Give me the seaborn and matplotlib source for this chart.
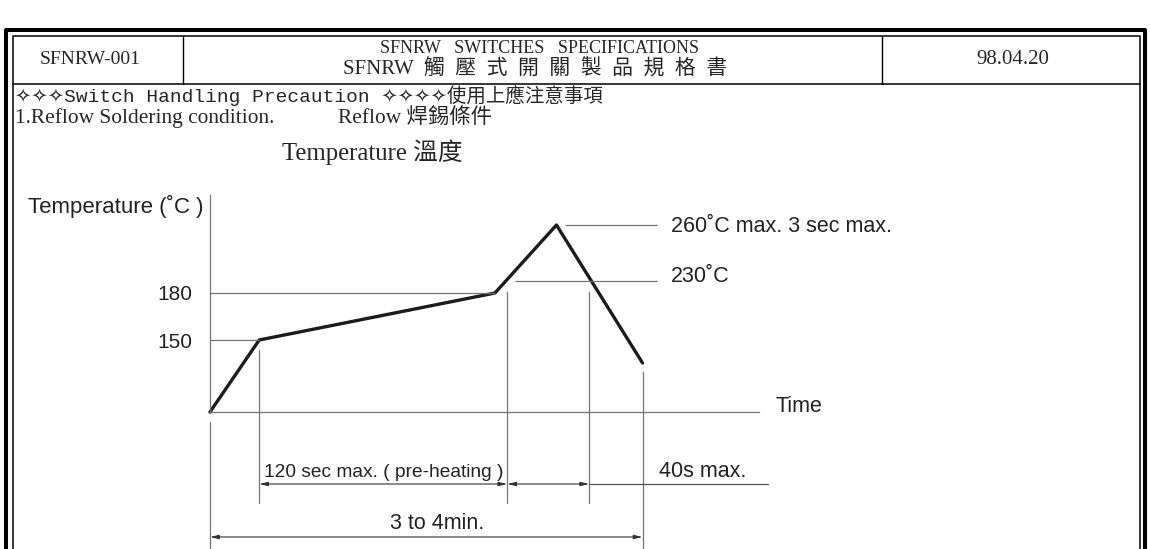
import numpy as np
import seaborn as sns
import matplotlib
matplotlib.use('Agg')
import matplotlib.pyplot as plt

# Perfil de reflow (esquemático): tempo em s, temperatura em °C
tempo = [0, 24, 139, 169, 211]
temperatura = [25, 150, 180, 260, 110]
t_230 = [145, 185]          # instantes em que a curva cruza 230 °C
ticks_y = [150, 180]
rotulos_y = ['150', '180']

sns.set_style('white')
plt.rcParams['font.family'] = ['Liberation Sans', 'DejaVu Sans']

# fonte "Ming": latim monoespaçado + CJK
MING = ['Liberation Mono', 'DejaVu Sans', 'Noto Sans CJK TC']
SERIF = ['Liberation Serif', 'Noto Sans CJK TC', 'DejaVu Sans']

W, H = 1150, 549
fig = plt.figure(figsize=(W / 100, H / 100), dpi=100)

# ---- folha / cabeçalho (coordenadas em pixels) ----
bg = fig.add_axes([0, 0, 1, 1])
bg.set_xlim(0, W)
bg.set_ylim(H, 0)
bg.axis('off')

k = 'black'
bg.plot([6, 6, 1145, 1145], [560, 29.5, 29.5, 560], color=k, lw=2.9)
bg.plot([12.5, 12.5, 1139.5, 1139.5], [560, 36, 36, 560], color=k, lw=1.1)
bg.plot([12.5, 1139.5], [83.5, 83.5], color=k, lw=1.1)
bg.plot([182.5, 182.5], [36, 83.5], color=k, lw=1.0)
bg.plot([882, 882], [36, 83.5], color=k, lw=1.0)

bg.text(40, 60, 'SFNRW-001', family=SERIF, fontsize=14, va='center', ha='left')
bg.text(539, 48.5, 'SFNRW   SWITCHES   SPECIFICATIONS', family=SERIF, fontsize=13,
        va='center', ha='center')
bg.text(535, 69.5, 'SFNRW  觸  壓  式  開  關  製  品  規  格  書', family=SERIF, fontsize=15,
        va='center', ha='center')
bg.text(1013, 60, '98.04.20', family=SERIF, fontsize=15, va='center', ha='center')
bg.text(15, 96, '✧✧✧Switch Handling Precaution ✧✧✧✧使用上應注意事項', family=MING,
        fontsize=14, va='center', ha='left')
bg.text(15, 123, '1.Reflow Soldering condition.', family=SERIF, fontsize=15.4,
        va='baseline', ha='left')
bg.text(338, 123, 'Reflow 焊錫條件', family=SERIF, fontsize=15.4, va='baseline', ha='left')
bg.text(282, 160, 'Temperature 溫度', family=SERIF, fontsize=17.8, va='baseline', ha='left')

# ---- gráfico ----
ax = fig.add_axes([0, 0, 1, 1])
ax.set_facecolor('none')

# escala y esquemática (não linear), como no desenho original
T_NOS = [25, 150, 180, 230, 260]
PY_NOS = [412, 340, 293, 281, 225]


def _interp(v, xp, fp):
    v = np.asarray(v, dtype=float)
    out = np.interp(v, xp, fp)
    a0 = (fp[1] - fp[0]) / (xp[1] - xp[0])
    a1 = (fp[-1] - fp[-2]) / (xp[-1] - xp[-2])
    out = np.where(v < xp[0], fp[0] + (v - xp[0]) * a0, out)
    out = np.where(v > xp[-1], fp[-1] + (v - xp[-1]) * a1, out)
    return out


NEG = [-p for p in PY_NOS]
ax.set_yscale('function', functions=(lambda T: _interp(T, T_NOS, NEG),
                                     lambda s: _interp(s, NEG, T_NOS)))

sns.lineplot(x=tempo, y=temperatura, ax=ax, color='#1c1c1c', linewidth=2.4)

K = 2.05  # px por segundo
ax.set_xlim(-210 / K, (W - 210) / K)
ax.set_ylim(float(_interp(-H, NEG, T_NOS)), float(_interp(0, NEG, T_NOS)))


def frac(py):
    return 1 - py / H


cinza = '#747474'
for s in ['top', 'right']:
    ax.spines[s].set_visible(False)
ax.spines['left'].set_position(('data', 0))
ax.spines['left'].set_bounds(25, 276)
ax.spines['bottom'].set_position(('data', 25))
ax.spines['bottom'].set_bounds(0, 268)
for s in ['left', 'bottom']:
    ax.spines[s].set_color(cinza)
    ax.spines[s].set_linewidth(0.9)

ax.set_xticks([])
ax.set_yticks(ticks_y, rotulos_y)
ax.tick_params(axis='y', length=0, pad=13, labelsize=15, labelcolor='#222222')

# linhas de referência
ax.hlines(150, 0, tempo[1], color=cinza, lw=0.9)
ax.hlines(180, 0, tempo[2], color=cinza, lw=0.9)
ax.hlines(230, t_230[0] + 4, 218, color=cinza, lw=0.9)
ax.hlines(260, tempo[3] + 4, 218, color=cinza, lw=0.9)

ax.axvline(0, ymin=0, ymax=frac(422), color=cinza, lw=0.9)
ax.axvline(tempo[1], ymin=frac(503), ymax=frac(350), color=cinza, lw=0.9)
ax.axvline(t_230[0], ymin=frac(503), ymax=frac(292), color=cinza, lw=0.9)
ax.axvline(t_230[1], ymin=frac(503), ymax=frac(292), color=cinza, lw=0.9)
ax.axvline(tempo[-1], ymin=0, ymax=frac(372), color=cinza, lw=0.9)

trans = ax.get_xaxis_transform()


def cota(t0, t1, py):
    ax.annotate('', xy=(t1, frac(py)), xytext=(t0, frac(py)), xycoords=trans, textcoords=trans,
                arrowprops=dict(arrowstyle='<|-|>,head_length=0.5,head_width=0.12',
                                color='#333333', lw=0.8, shrinkA=0, shrinkB=0))


cota(tempo[1], t_230[0], 484)
cota(t_230[0], t_230[1], 484)
ax.plot([t_230[1], 272], [frac(484), frac(484)], transform=trans, color='#555555', lw=0.9)
cota(0, tempo[-1], 537)

txt = dict(color='#222222', fontsize=15.5)
ax.annotate('260˚C max. 3 sec max.', xy=(218, 260), xytext=(14, -1),
            textcoords='offset pixels', va='center', ha='left', **txt)
ax.annotate('230˚C', xy=(218, 230), xytext=(14, 4),
            textcoords='offset pixels', va='center', ha='left', **txt)
ax.text(276, 25, 'Time', va='baseline', ha='left', **txt)
ax.annotate('Temperature (˚C )', xy=(0, 276), xytext=(-7, -18),
            textcoords='offset pixels', va='baseline', ha='right', color='#222222',
            fontsize=16)
ax.annotate('120 sec max. ( pre-heating )', xy=(tempo[1], frac(484)), xycoords=trans,
            xytext=(5, 7), textcoords='offset pixels', va='baseline', ha='left',
            color='#222222', fontsize=13.8)
ax.annotate('40s max.', xy=(tempo[-1], frac(484)), xycoords=trans,
            xytext=(16, 7), textcoords='offset pixels', va='baseline', ha='left', **txt)
ax.annotate('3 to 4min.', xy=(tempo[-1] / 2, frac(537)), xycoords=trans,
            xytext=(11, 8), textcoords='offset pixels', va='baseline', ha='center', **txt)

fig.savefig('out.png', dpi=100)
